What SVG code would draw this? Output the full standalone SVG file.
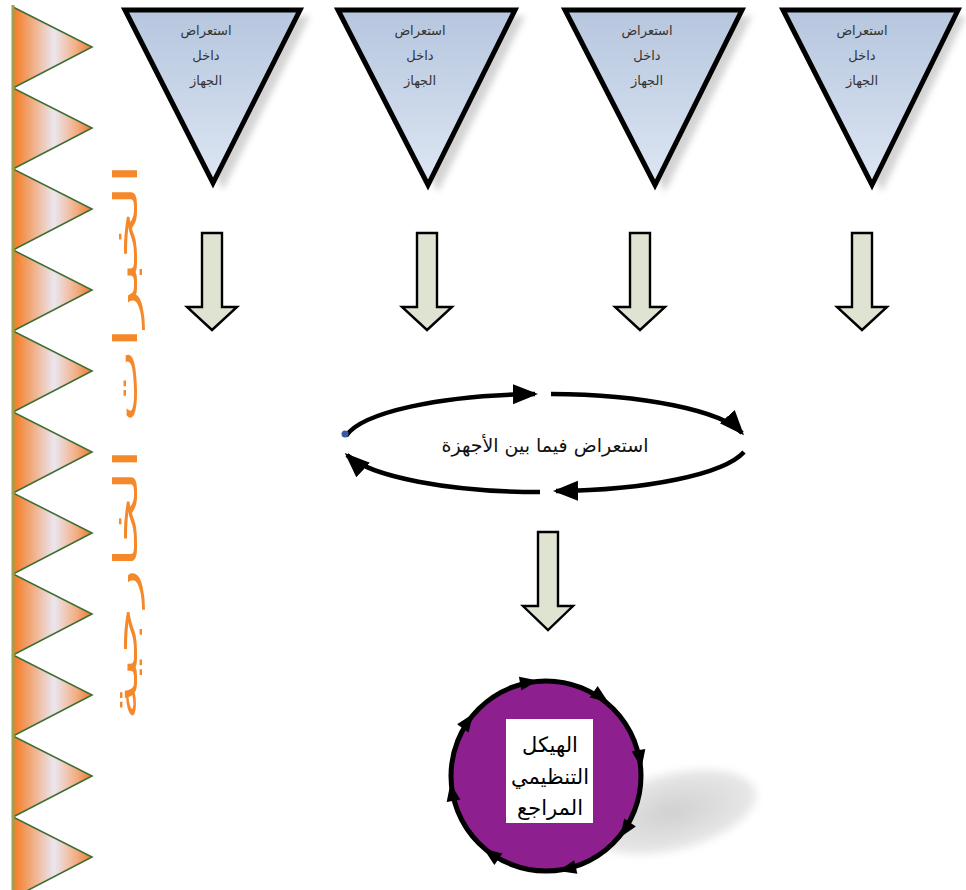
<svg xmlns="http://www.w3.org/2000/svg" width="966" height="890" viewBox="0 0 966 890">
<style>
.tri{fill:url(#triFill);stroke:#000;stroke-width:5;stroke-linejoin:miter}
.triShadow{fill:#b0b0b0;opacity:0.55;filter:url(#blur)}
.triTxt{font-family:"DejaVu Sans",serif;font-size:13px;fill:#333;text-anchor:middle}
.block{fill:#dfe3d2;stroke:#000;stroke-width:2.4;stroke-linejoin:miter}
.cyc{fill:none;stroke:#000;stroke-width:4.5;marker-end:url(#ah)}
.tooth{fill:url(#toothFill);stroke:#3f6e35;stroke-width:1.6}
.cArr{fill:#000}
</style>
<defs>
<linearGradient id="triFill" x1="0" y1="0" x2="0" y2="1">
<stop offset="0" stop-color="#b6c6de"/>
<stop offset="1" stop-color="#dde6f3"/>
</linearGradient>
<linearGradient id="toothFill" gradientUnits="userSpaceOnUse" x1="13" y1="0" x2="92" y2="0">
<stop offset="0" stop-color="#f57a20"/>
<stop offset="0.52" stop-color="#ebe6f0"/>
<stop offset="0.8" stop-color="#f2ae85"/>
<stop offset="1" stop-color="#f07a30"/>
</linearGradient>
<radialGradient id="shadowFill">
<stop offset="0" stop-color="#d0d0d0"/>
<stop offset="1" stop-color="#e8e8e8"/>
</radialGradient>
<filter id="blur" x="-20%" y="-20%" width="140%" height="140%"><feGaussianBlur stdDeviation="3"/></filter>
<filter id="blur2" x="-20%" y="-20%" width="140%" height="140%"><feGaussianBlur stdDeviation="4"/></filter>
<marker id="ah" markerUnits="userSpaceOnUse" markerWidth="30" markerHeight="24" refX="22" refY="10" orient="auto">
<path d="M0,0 L25,10 L0,20 Z" fill="#000"/>
</marker>
</defs>
<rect width="966" height="890" fill="#fff"/>

<g id="sawtooth">
<path class="tooth" d="M13,7 L92,47 L13,88 L92,128 L13,169 L92,209 L13,250 L92,290 L13,331 L92,371 L13,412 L92,452 L13,493 L92,533 L13,574 L92,614 L13,655 L92,695 L13,736 L92,776 L13,817 L92,857 L13,898 Z"/>
<line x1="13" y1="5" x2="13" y2="890" stroke="#a0a050" stroke-width="3"/>
</g>

<g id="sideLabel">
<text transform="translate(137,442) rotate(-90)" font-family="DejaVu Sans,sans-serif" font-size="33" fill="#f5892a" text-anchor="middle" textLength="558" lengthAdjust="spacingAndGlyphs">الخبرات الخارجية</text>
</g>

<g id="tri1">
<polygon class="triShadow" points="135,16 310,16 223,190"/>
<polygon class="tri" points="125,10 300,10 213,183"/>
<text class="triTxt" x="206" y="35">استعراض</text>
<text class="triTxt" x="206" y="60">داخل</text>
<text class="triTxt" x="206" y="85">الجهاز</text>
</g>
<g id="tri2">
<polygon class="triShadow" points="348,16 525,16 438,192"/>
<polygon class="tri" points="338,10 515,10 428,185"/>
<text class="triTxt" x="420" y="35">استعراض</text>
<text class="triTxt" x="420" y="60">داخل</text>
<text class="triTxt" x="420" y="85">الجهاز</text>
</g>
<g id="tri3">
<polygon class="triShadow" points="575,16 752,16 665,192"/>
<polygon class="tri" points="565,10 742,10 655,185"/>
<text class="triTxt" x="647" y="35">استعراض</text>
<text class="triTxt" x="647" y="60">داخل</text>
<text class="triTxt" x="647" y="85">الجهاز</text>
</g>
<g id="tri4">
<polygon class="triShadow" points="793,16 966,16 882,192"/>
<polygon class="tri" points="783,10 958,10 872,185"/>
<text class="triTxt" x="862" y="35">استعراض</text>
<text class="triTxt" x="862" y="60">داخل</text>
<text class="triTxt" x="862" y="85">الجهاز</text>
</g>

<g id="connectors">
<path class="block" d="M202,233 H222 V307 H237 L212,330 L187,307 H202 Z"/>
<path class="block" d="M417,233 H437 V307 H452 L427,330 L402,307 H417 Z"/>
<path class="block" d="M630,233 H650 V307 H665 L640,330 L615,307 H630 Z"/>
<path class="block" d="M852,233 H872 V307 H887 L862,330 L837,307 H852 Z"/>
<path class="block" d="M538,532 H558 V606 H573 L548,630 L523,606 H538 Z"/>
<path class="cyc" d="M346,436 A200,50 0 0,1 535,394"/>
<path class="cyc" d="M551,394 A200,50 0 0,1 742,433"/>
<path class="cyc" d="M744,452 A200,50 0 0,1 556,491"/>
<path class="cyc" d="M540,492 A200,50 0 0,1 347,455"/>
<circle cx="345" cy="434" r="3.5" fill="#3a5aa0"/>
</g>

<g id="cycleLabel">
<text x="545" y="452" font-family="DejaVu Sans,serif" font-size="19" fill="#111" text-anchor="middle">استعراض فيما بين الأجهزة</text>
</g>

<g id="structure">
<ellipse cx="672" cy="812" rx="86" ry="38" transform="rotate(-14 672 812)" fill="url(#shadowFill)" filter="url(#blur2)"/>
<circle cx="546" cy="776" r="95" fill="#8e1f8e" stroke="#000" stroke-width="5"/>
<g class="cArr">
<path d="M-9,-7 L9,0 L-9,7 Z" transform="translate(529,682) rotate(-10)"/>
<path d="M-9,-7 L9,0 L-9,7 Z" transform="translate(601,697) rotate(35)"/>
<path d="M-9,-7 L9,0 L-9,7 Z" transform="translate(640,759) rotate(80)"/>
<path d="M-9,-7 L9,0 L-9,7 Z" transform="translate(625,830) rotate(124)"/>
<path d="M-9,-7 L9,0 L-9,7 Z" transform="translate(567,869) rotate(167)"/>
<path d="M-9,-7 L9,0 L-9,7 Z" transform="translate(491,854) rotate(215)"/>
<path d="M-9,-7 L9,0 L-9,7 Z" transform="translate(452,792) rotate(260)"/>
<path d="M-9,-7 L9,0 L-9,7 Z" transform="translate(468,721) rotate(305)"/>
</g>
<rect x="506" y="719" width="87" height="104" fill="#fff"/>
<g font-family="DejaVu Sans,serif" font-size="21" fill="#000" text-anchor="middle">
<text x="550" y="752">الهيكل</text>
<text x="550" y="784">التنظيمي</text>
<text x="550" y="815">المراجع</text>
</g>
</g>
</svg>
